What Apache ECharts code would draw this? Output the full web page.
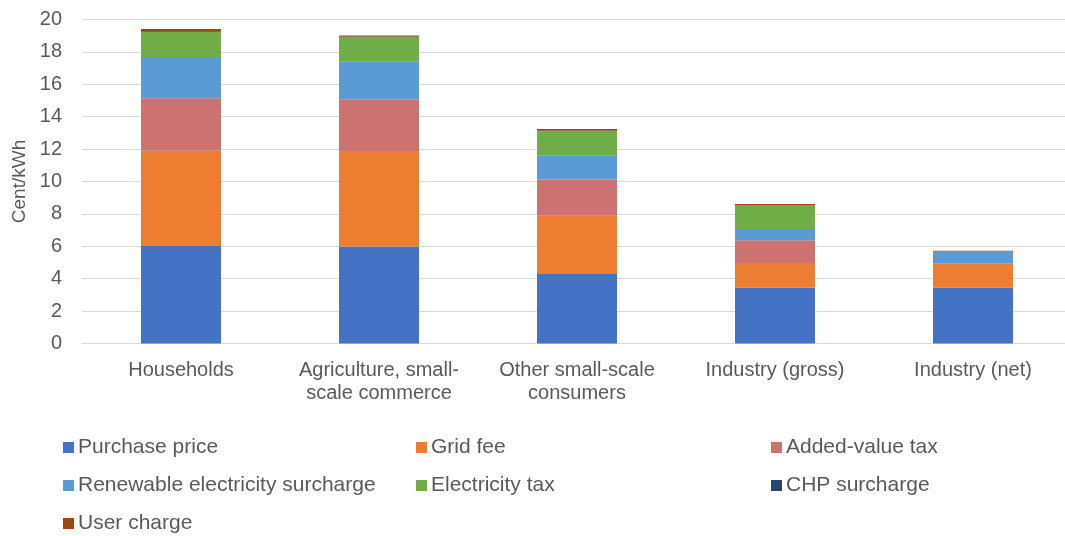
<!DOCTYPE html>
<html><head><meta charset="utf-8">
<script src="https://cdn.jsdelivr.net/npm/echarts@6/dist/echarts.min.js"></script>
<style>html,body{margin:0;padding:0;background:#fff}#c{width:1065px;height:536px}</style>
</head><body><div id="c"></div>
<script>
const categories = ["Households", "Agriculture, small-\nscale commerce", "Other small-scale\nconsumers", "Industry (gross)", "Industry (net)"];
const purchasePrice = [6.02, 5.98, 4.29, 3.44, 3.44];
const gridFee = [5.88, 5.90, 3.60, 1.53, 1.51];
const addedValueTax = [3.24, 3.17, 2.24, 1.40, 0];
const renewableSurcharge = [2.55, 2.37, 1.46, 0.70, 0.76];
const electricityTax = [1.54, 1.50, 1.51, 1.46, 0];
const chpSurcharge = [0.04, 0.03, 0.03, 0.02, 0];
const userCharge = [0.14, 0.07, 0.11, 0.06, 0.02];
const yTicks = [0, 2, 4, 6, 8, 10, 12, 14, 16, 18, 20];

const seriesDefs = [
  ["Purchase price", purchasePrice, "#4472C4"],
  ["Grid fee", gridFee, "#ED7D31"],
  ["Added-value tax", addedValueTax, "#CC7270"],
  ["Renewable electricity surcharge", renewableSurcharge, "#5B9BD5"],
  ["Electricity tax", electricityTax, "#70AD47"],
  ["CHP surcharge", chpSurcharge, "#264478"],
  ["User charge", userCharge, "#9E480E"]
];
const txt = "#595959";
const font = "Liberation Sans, Arial, sans-serif";
const legendBase = {
  orient: "vertical", itemWidth: 11, itemHeight: 11, itemGap: 17, icon: "rect",
  height: 130, padding: 0, top: 437,
  textStyle: {color: txt, fontSize: 21, lineHeight: 21, fontFamily: font, padding: [0, 0, 0, -1]}
};
const chart = echarts.init(document.getElementById("c"));
chart.setOption({
  animation: false,
  grid: {left: 82, right: -7, top: 19.5, bottom: 192.5, outerBoundsMode: "none", containLabel: false},
  legend: [
    Object.assign({}, legendBase, {left: 63, data: ["Purchase price", "Renewable electricity surcharge", "User charge"]}),
    Object.assign({}, legendBase, {left: 416, data: ["Grid fee", "Electricity tax"]}),
    Object.assign({}, legendBase, {left: 771, data: ["Added-value tax", "CHP surcharge"]})
  ],
  xAxis: {
    type: "category", data: categories,
    axisLine: {lineStyle: {color: "#d9d9d9", width: 1}},
    axisTick: {show: false},
    axisLabel: {color: txt, fontSize: 20, fontFamily: font, margin: 15, lineHeight: 23, interval: 0}
  },
  yAxis: {
    type: "value", min: 0, max: 20, interval: 2,
    name: "Cent/kWh", nameLocation: "middle", nameGap: 52,
    nameTextStyle: {color: txt, fontSize: 19, fontFamily: font},
    axisLabel: {color: txt, fontSize: 20, fontFamily: font, margin: 20,
      formatter: v => yTicks.includes(v) ? String(v) : ""},
    splitLine: {lineStyle: {color: "#d9d9d9", width: 1}},
    axisLine: {show: false}, axisTick: {show: false}
  },
  series: seriesDefs.map(([name, data, color]) => ({
    name, type: "bar", stack: "total", data, barWidth: "40.4%",
    itemStyle: {color}
  }))
});
</script></body></html>
